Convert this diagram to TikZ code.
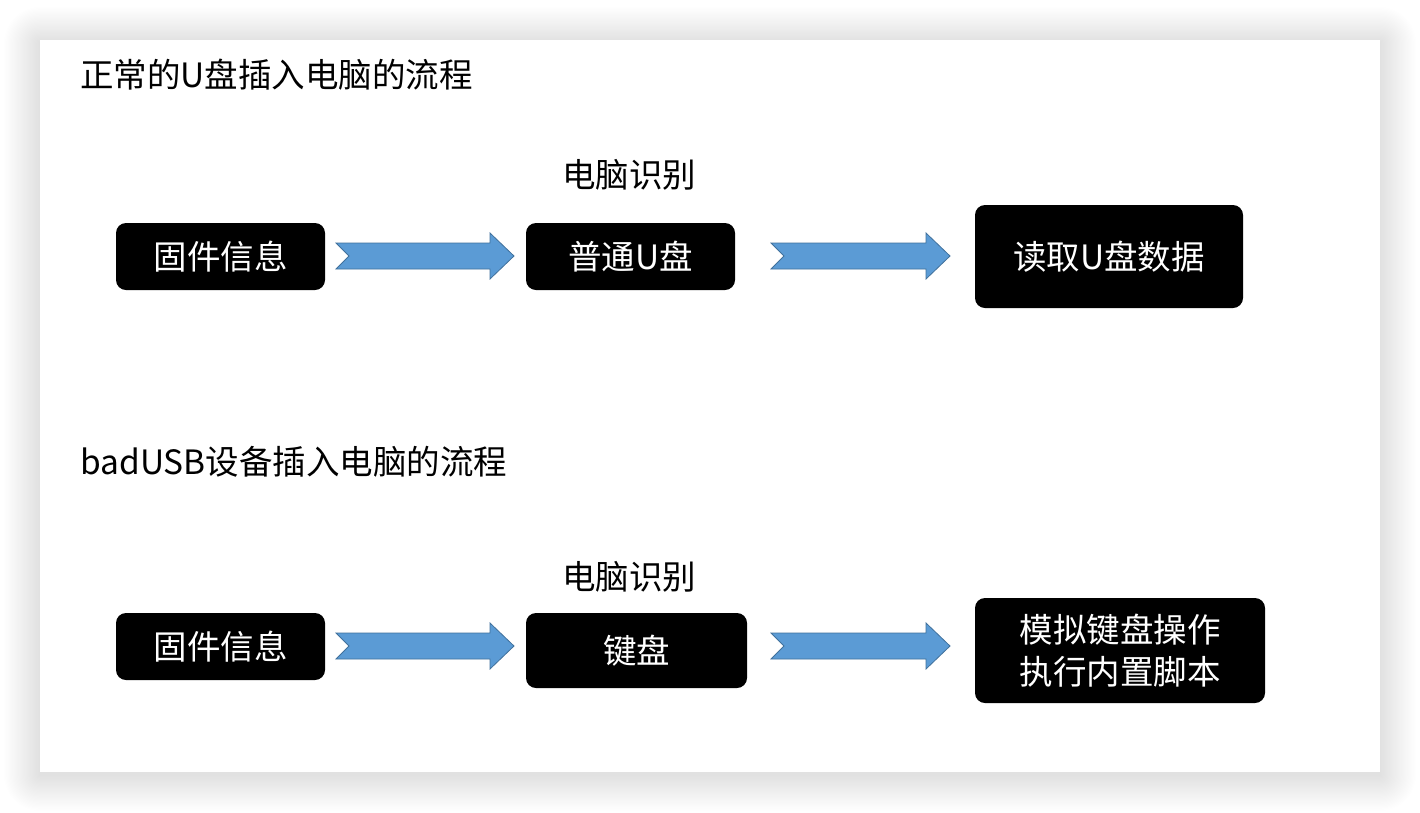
\documentclass[tikz,border=0pt]{standalone}
\usepackage{fontspec}
\setmainfont{Noto Sans CJK SC}
\definecolor{arrfill}{HTML}{5B9BD5}
\definecolor{arrdraw}{HTML}{41719C}
\tikzset{
  x=1pt,y=-1pt,
  blackbox/.style={fill=black,rounded corners=10pt,text=white,font=\fontsize{33.5}{42}\selectfont,align=center,inner sep=0pt},
  label/.style={font=\fontsize{33.5}{42}\selectfont,inner sep=0pt},
  title/.style={font=\fontsize{33.5}{42}\selectfont,inner sep=0pt,anchor=west},
  flowarrow/.style={fill=arrfill,draw=arrdraw,line width=0.8pt,line join=miter},
}
\newcommand{\notcharrow}[3]{% x1, x2, ycenter
  \draw[flowarrow] (#1,#3-13) -- (#2-24,#3-13) -- (#2-24,#3-23) -- (#2,#3) -- (#2-24,#3+23) -- (#2-24,#3+13) -- (#1,#3+13) -- (#1+13,#3) -- cycle;
}
\begin{document}
\begin{tikzpicture}
\useasboundingbox (0,0) rectangle (1420,812);
\fill[white] (0,0) rectangle (1420,812);
\foreach \i in {1,...,30}{
  \fill[black,opacity=0.0022,rounded corners=\i*1.2pt] (40-1.2*\i,40-1.2*\i+3) rectangle (1380+1.2*\i,772+1.2*\i+3);
}
\fill[white] (40,40) rectangle (1380,772);

\node[title] (t1) at (80,75) {正常的U盘插入电脑的流程};
\node[title] (t2) at (80,462) {badUSB设备插入电脑的流程};

\path[blackbox] (116,223) rectangle (325,290);
\node[blackbox,fill=none] (a1) at (220.5,256.5) {固件信息};
\path[blackbox] (526,223) rectangle (735,290);
\node[blackbox,fill=none] (b1) at (630.5,256.5) {普通U盘};
\path[blackbox] (975,205) rectangle (1243,308);
\node[blackbox,fill=none] (c1) at (1109,256.5) {读取U盘数据};
\node[label] (l1) at (629,175) {电脑识别};

\path[blackbox] (116,613) rectangle (325,680);
\node[blackbox,fill=none] (a2) at (220.5,646.5) {固件信息};
\path[blackbox] (526,613) rectangle (747,688);
\node[blackbox,fill=none] (b2) at (636.5,650.5) {键盘};
\path[blackbox] (975,598) rectangle (1265,703);
\node[blackbox,fill=none] (c2) at (1120,650.5) {模拟键盘操作\\执行内置脚本};
\node[label] (l2) at (629,577) {电脑识别};

\notcharrow{336}{514}{256}
\notcharrow{771}{950}{256}
\notcharrow{336}{514}{646}
\notcharrow{771}{950}{646}
\end{tikzpicture}
\end{document}
